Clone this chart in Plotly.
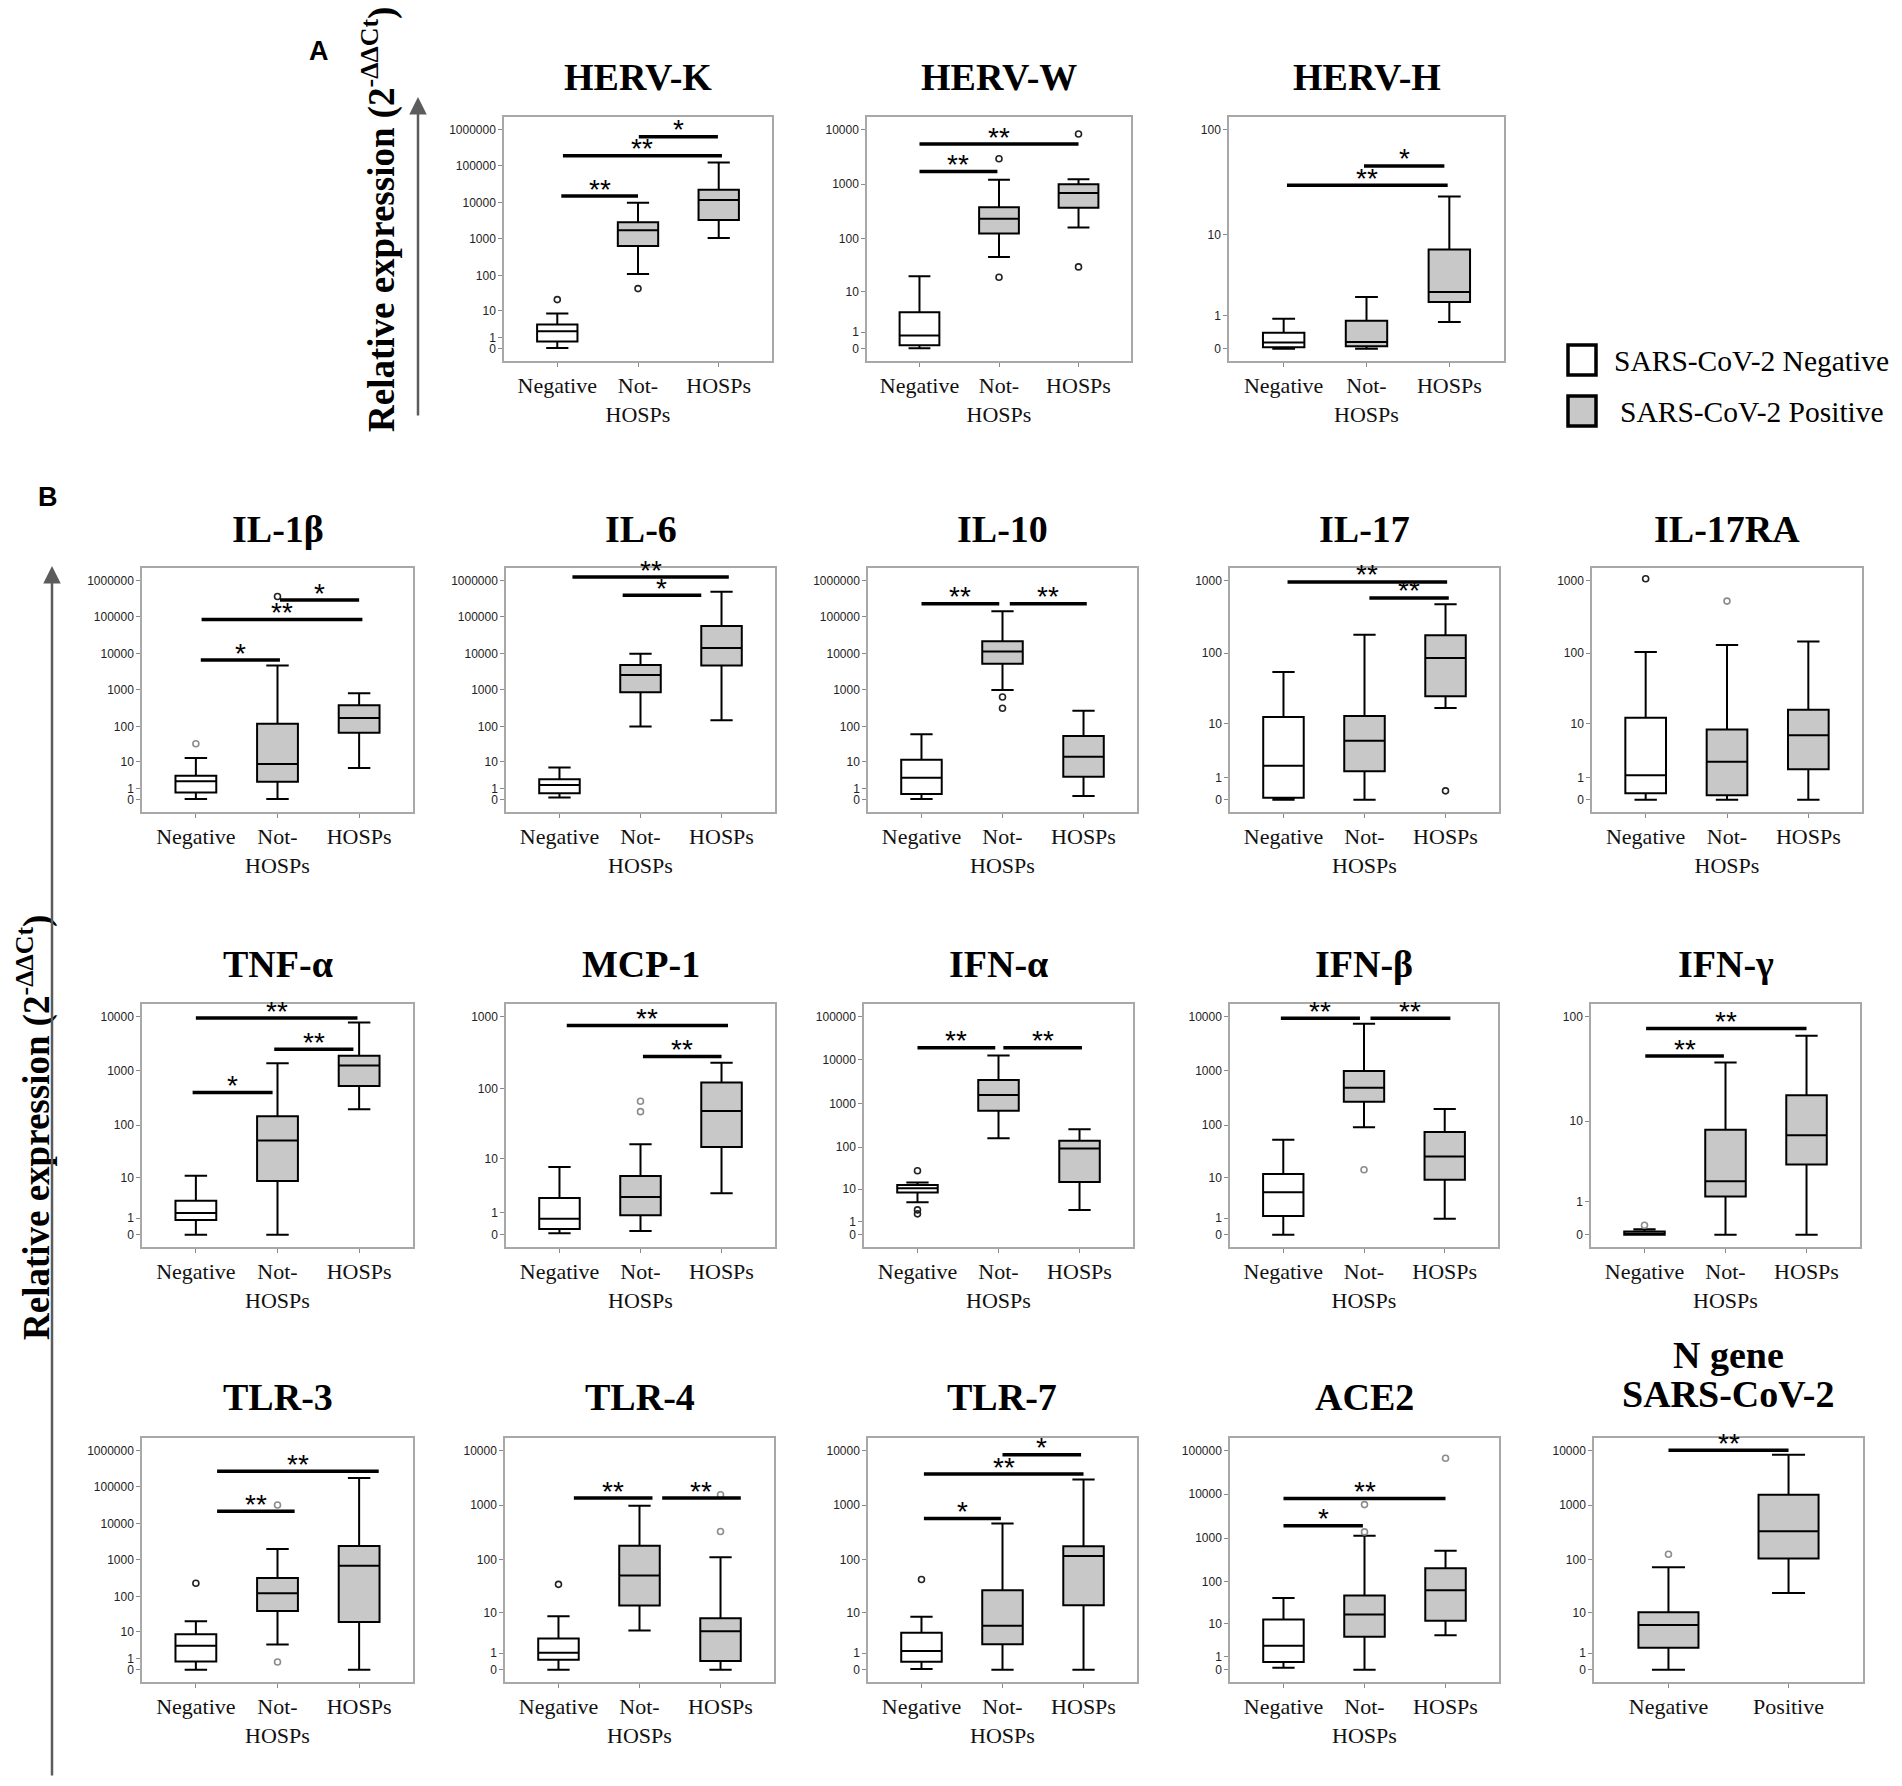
import numpy as np
import plotly.graph_objects as go

# page is 1902x1786; the html body keeps an 8 px margin, so the figure is drawn 8 px in
OFF = 8
W, H = 1902 - 2 * OFF, 1786 - 2 * OFF

# ---------------- data (raw 2^-ddCt units) ----------------
GROUPS3 = ["Negative", "Not-<br>HOSPs", "HOSPs"]
GROUPS2 = ["Negative", "Positive"]

# each group: [lower whisker, Q1, median, Q3, upper whisker]
HERVK_STATS = [[0.05, 0.58, 2.0, 3.6, 8.1], [109, 645, 1740, 2880, 9770], [1070, 3310, 11700, 22400, 123000]]
HERVK_OUT = [[21], [43], []]
HERVK_SIG = [(0.05, 1.0, 15000, "**"), (0.07, 2.04, 190000, "**"), (1.01, 1.99, 630000, "*")]

HERVW_STATS = [[0.02, 0.15, 0.74, 3.6, 20], [46, 125, 233, 380, 1200], [161, 370, 690, 1000, 1230]]
HERVW_OUT = [[], [2900, 19], [8200, 30]]
HERVW_SIG = [(0.0, 0.98, 1700, "**"), (0.0, 2.0, 5400, "**")]

HERVH_STATS = [[0, 0.03, 0.14, 0.4, 0.88], [0, 0.05, 0.15, 0.8, 1.97], [0.75, 1.67, 2.3, 7.05, 23.6]]
HERVH_OUT = [[], [], []]
HERVH_SIG = [(0.97, 1.94, 45.7, "*"), (0.04, 1.98, 30.2, "**")]

IL1B_STATS = [[0.05, 0.58, 2.2, 3.5, 12.8], [0.05, 2.1, 8.5, 119, 4700], [6.4, 67, 170, 380, 810]]
IL1B_OUT = [[33], [360000], []]
IL1B_SIG = [(0.06, 1.03, 6600, "*"), (0.07, 2.04, 85000, "**"), (1.03, 2.0, 290000, "*")]

IL6_STATS = [[0.15, 0.5, 1.5, 2.6, 6.6], [100, 870, 2570, 4800, 9800], [147, 4700, 14000, 56000, 490000]]
IL6_OUT = [[], [], []]
IL6_SIG = [(0.16, 2.09, 1230000, "**"), (0.78, 1.75, 390000, "*")]

IL10_STATS = [[0.05, 0.43, 3.0, 11.3, 61], [1000, 5200, 11300, 21600, 142000], [0.26, 3.2, 14, 54, 270]]
IL10_OUT = [[], [640, 315], []]
IL10_SIG = [(0.0, 0.96, 230000, "**"), (1.09, 2.04, 230000, "**")]

IL17_STATS = [[0, 0.06, 1.9, 12.5, 55], [0, 1.45, 5.4, 13, 180], [17, 25, 86, 177, 470]]
IL17_OUT = [[], [], [0.32]]
IL17_SIG = [(0.05, 2.02, 950, "**"), (1.06, 2.04, 575, "**")]

IL17RA_STATS = [[0, 0.22, 1.16, 12.2, 104], [0, 0.15, 2.3, 8.1, 130], [0, 1.6, 6.6, 16, 145]]
IL17RA_OUT = [[1050], [520], []]
IL17RA_SIG = []

TNFA_STATS = [[0, 0.86, 1.5, 3.2, 11], [0, 8.6, 52, 147, 1380], [197, 530, 1250, 1900, 7700]]
TNFA_OUT = [[], [], []]
TNFA_SIG = [(0.0, 1.98, 9300, "**"), (0.96, 1.93, 2500, "**"), (-0.04, 0.94, 400, "*")]

MCP1_STATS = [[0.05, 0.2, 0.66, 2.2, 7.5], [0.12, 0.85, 2.3, 5.4, 16.5], [2.7, 15, 49, 122, 230]]
MCP1_OUT = [[], [48, 67], []]
MCP1_SIG = [(0.09, 2.08, 750, "**"), (1.03, 2.0, 280, "**")]

IFNA_STATS = [[4.5, 8.3, 10.6, 12.8, 14.7], [160, 690, 1580, 3500, 12600], [2.7, 15, 93, 140, 260]]
IFNA_OUT = [[28, 2.7, 2.0], [], []]
IFNA_SIG = [(0.0, 0.96, 19000, "**"), (1.06, 2.03, 19000, "**")]

IFNB_STATS = [[0, 1.2, 5, 12, 54], [92, 270, 490, 1000, 7300], [0.96, 9.2, 26, 75, 200]]
IFNB_OUT = [[], [14.5], []]
IFNB_SIG = [(-0.03, 0.95, 9200, "**"), (1.08, 2.07, 9200, "**")]

IFNG_STATS = [[0, 0, 0.02, 0.07, 0.12], [0, 1.24, 2.1, 8.2, 37], [0, 3.4, 7.2, 18, 66]]
IFNG_OUT = [[0.22], [], []]
IFNG_SIG = [(0.02, 2.0, 77, "**"), (0.01, 0.98, 42.6, "**")]

TLR3_STATS = [[0, 0.66, 3.5, 8.3, 20], [3.9, 39, 122, 320, 2000], [0, 19, 700, 2400, 175000]]
TLR3_OUT = [[230], [32000, 0.62], []]
TLR3_SIG = [(0.26, 2.24, 270000, "**"), (0.26, 1.21, 21500, "**")]

TLR4_STATS = [[0, 0.52, 1.03, 2.7, 8.4], [4.2, 13.8, 51, 180, 980], [0, 0.44, 4.0, 7.7, 111]]
TLR4_OUT = [[35], [], [330, 1550]]
TLR4_SIG = [(0.19, 1.16, 1350, "**"), (1.28, 2.25, 1350, "**")]

TLR7_STATS = [[0.03, 0.4, 1.2, 3.7, 8.2], [0, 1.9, 5.3, 27, 460], [0, 14, 117, 177, 2950]]
TLR7_OUT = [[43], [], []]
TLR7_SIG = [(1.0, 1.97, 8300, "*"), (0.03, 2.0, 3700, "**"), (0.03, 0.98, 570, "*")]

ACE2_STATS = [[0.1, 0.5, 2.5, 13, 42], [0, 4.6, 17, 48, 1130], [5.1, 12, 64, 205, 510]]
ACE2_OUT = [[], [1380, 5800], [66000]]
ACE2_SIG = [(0.0, 2.0, 8000, "**"), (0.0, 0.98, 1900, "*")]

NGENE_STATS = [[0, 1.5, 5.5, 10.2, 73], [24, 106, 335, 1550, 8300]]
NGENE_OUT = [[126], []]
NGENE_SIG = [(0.0, 1.0, 10000, "**")]

# panel: title lines, groups, stats, outliers, significance bars, top y tick label
PANELS = [
    (["HERV-K"], GROUPS3, HERVK_STATS, HERVK_OUT, HERVK_SIG, 1000000),
    (["HERV-W"], GROUPS3, HERVW_STATS, HERVW_OUT, HERVW_SIG, 10000),
    (["HERV-H"], GROUPS3, HERVH_STATS, HERVH_OUT, HERVH_SIG, 100),
    (["IL-1β"], GROUPS3, IL1B_STATS, IL1B_OUT, IL1B_SIG, 1000000),
    (["IL-6"], GROUPS3, IL6_STATS, IL6_OUT, IL6_SIG, 1000000),
    (["IL-10"], GROUPS3, IL10_STATS, IL10_OUT, IL10_SIG, 1000000),
    (["IL-17"], GROUPS3, IL17_STATS, IL17_OUT, IL17_SIG, 1000),
    (["IL-17RA"], GROUPS3, IL17RA_STATS, IL17RA_OUT, IL17RA_SIG, 1000),
    (["TNF-α"], GROUPS3, TNFA_STATS, TNFA_OUT, TNFA_SIG, 10000),
    (["MCP-1"], GROUPS3, MCP1_STATS, MCP1_OUT, MCP1_SIG, 1000),
    (["IFN-α"], GROUPS3, IFNA_STATS, IFNA_OUT, IFNA_SIG, 100000),
    (["IFN-β"], GROUPS3, IFNB_STATS, IFNB_OUT, IFNB_SIG, 10000),
    (["IFN-γ"], GROUPS3, IFNG_STATS, IFNG_OUT, IFNG_SIG, 100),
    (["TLR-3"], GROUPS3, TLR3_STATS, TLR3_OUT, TLR3_SIG, 1000000),
    (["TLR-4"], GROUPS3, TLR4_STATS, TLR4_OUT, TLR4_SIG, 10000),
    (["TLR-7"], GROUPS3, TLR7_STATS, TLR7_OUT, TLR7_SIG, 10000),
    (["ACE2"], GROUPS3, ACE2_STATS, ACE2_OUT, ACE2_SIG, 100000),
    (["N gene", "SARS-CoV-2"], GROUPS2, NGENE_STATS, NGENE_OUT, NGENE_SIG, 10000),
]

LEGEND_LABELS = ["SARS-CoV-2 Negative", "SARS-CoV-2 Positive"]
Y_TITLE = "<b>Relative expression (2<sup>-ΔΔCt</sup>)</b>"

# ---------------- layout / style (page-pixel frames of each panel) ----------------
FRAMES = [
    (504, 772, 117, 361), (867, 1131, 117, 361), (1229, 1504, 117, 361),
    (142, 413, 568, 812), (506, 775, 568, 812), (868, 1137, 568, 812), (1230, 1499, 568, 812), (1592, 1862, 568, 812),
    (142, 413, 1004, 1247), (506, 775, 1004, 1247), (864, 1133, 1004, 1247), (1230, 1498, 1004, 1247), (1591, 1860, 1004, 1247),
    (142, 413, 1438, 1682), (505, 774, 1438, 1682), (868, 1137, 1438, 1682), (1230, 1499, 1438, 1682), (1594, 1863, 1438, 1682),
]
TITLE_Y = [[77]] * 3 + [[529]] * 5 + [[964]] * 5 + [[1397]] * 4 + [[1355, 1394]]
GREY = "#c8c8c8"
GREY_OUT = {(3, 0), (9, 1), (11, 1), (12, 0), (13, 1), (14, 2), (16, 1), (16, 2), (17, 0), (7, 1)}
SERIF = "Liberation Serif"
SANS = "Liberation Sans"


def t(v):
    return np.log10(np.asarray(v, dtype=float) + 1.0)


def px(x):
    return (x - OFF) / W


def py(y):
    return 1 - (y - OFF) / H


fig = go.Figure()
layout = {}
shapes = []
annotations = []

for k, (title, groups, stats, outs, sigs, top) in enumerate(PANELS):
    n = k + 1
    xa, ya = ("x", "y") if n == 1 else (f"x{n}", f"y{n}")
    x0, x1, y0, y1 = FRAMES[k]
    ng = len(groups)
    for i, s in enumerate(stats):
        tv = t(s)
        fill = "white" if (ng == 3 and i == 0) else GREY
        fig.add_trace(go.Box(
            x=[i], lowerfence=[tv[0]], q1=[tv[1]], median=[tv[2]], q3=[tv[3]], upperfence=[tv[4]],
            xaxis=xa, yaxis=ya, fillcolor=fill, line=dict(color="black", width=2),
            width=0.5, whiskerwidth=0.55, boxpoints=False, showlegend=False, hoverinfo="skip"))
        if outs[i]:
            col = "#8c8c8c" if (k, i) in GREY_OUT else "#222222"
            fig.add_trace(go.Scatter(
                x=[i] * len(outs[i]), y=t(outs[i]), mode="markers", xaxis=xa, yaxis=ya,
                marker=dict(symbol="circle-open", size=6, color=col, line=dict(width=1.6, color=col)),
                showlegend=False, hoverinfo="skip"))
    for (a, b, yv, lab) in sigs:
        yy = float(t(yv))
        shapes.append(dict(type="line", xref=xa, yref=ya, x0=a, x1=b, y0=yy, y1=yy,
                           line=dict(color="black", width=3.5)))
        annotations.append(dict(xref=xa, yref=ya, x=(a + b) / 2, y=yy, text=lab, showarrow=False,
                                xanchor="center", yanchor="middle", yshift=7,
                                font=dict(family=SANS, size=28, color="black")))
    # y ticks
    tickvals_raw = [0, 1] + [10 ** e for e in range(1, int(round(np.log10(top))) + 1)]
    T = float(t(top))
    p = 0.0563 * T
    ax_num = "" if n == 1 else str(n)
    xr = [-0.66, 2.66] if ng == 3 else [-0.62, 1.62]
    layout["xaxis" + ax_num] = dict(
        domain=[px(x0), px(x1)], range=xr, anchor=ya, tickmode="array", tickvals=list(range(ng)),
        ticktext=groups, ticks="outside", ticklen=4, tickcolor="#8a8a8a", showline=True, mirror=True,
        linecolor="#a8a8a8", linewidth=1.5, showgrid=False, zeroline=False,
        tickfont=dict(family=SERIF, size=22, color="#111111"), fixedrange=True)
    layout["yaxis" + ax_num] = dict(
        domain=[py(y1), py(y0)], range=[-p, T + p], anchor=xa, tickmode="array",
        tickvals=list(t(tickvals_raw)), ticktext=[str(v) for v in tickvals_raw], ticks="outside",
        ticklen=4, tickcolor="#8a8a8a", showline=True, mirror=True, linecolor="#a8a8a8", linewidth=1.5,
        showgrid=False, zeroline=False, tickfont=dict(family=SANS, size=12, color="#222222"), fixedrange=True)
    for line_txt, ty in zip(title, TITLE_Y[k]):
        annotations.append(dict(xref="paper", yref="paper", x=px((x0 + x1) / 2), y=py(ty),
                                text=f"<b>{line_txt}</b>", showarrow=False, xanchor="center", yanchor="middle",
                                font=dict(family=SERIF, size=38, color="black")))

# panel letters
annotations.append(dict(xref="paper", yref="paper", x=px(319), y=py(51), text="<b>A</b>", showarrow=False,
                        xanchor="center", yanchor="middle", font=dict(family=SANS, size=27, color="black")))
annotations.append(dict(xref="paper", yref="paper", x=px(48), y=py(497), text="<b>B</b>", showarrow=False,
                        xanchor="center", yanchor="middle", font=dict(family=SANS, size=27, color="black")))
# vertical axis titles
annotations.append(dict(xref="paper", yref="paper", x=px(379), y=py(220), text=Y_TITLE, textangle=-90,
                        xanchor="center", yanchor="middle", showarrow=False,
                        font=dict(family=SERIF, size=37, color="black")))
annotations.append(dict(xref="paper", yref="paper", x=px(34), y=py(1128), text=Y_TITLE, textangle=-90,
                        xanchor="center", yanchor="middle", showarrow=False,
                        font=dict(family=SERIF, size=37, color="black")))
# arrows
annotations.append(dict(xref="paper", yref="paper", x=px(418), y=py(97), ax=0, ay=320, text="",
                        showarrow=True, arrowhead=2, arrowsize=1.4, arrowwidth=2.5, arrowcolor="#5c5c5c"))
annotations.append(dict(xref="paper", yref="paper", x=px(52), y=py(566), ax=0, ay=1211, text="",
                        showarrow=True, arrowhead=2, arrowsize=1.4, arrowwidth=2.5, arrowcolor="#5c5c5c"))

# legend (drawn)
for j, (lab, fill) in enumerate(zip(LEGEND_LABELS, ["white", GREY])):
    ytop = 345 + j * 51
    shapes.append(dict(type="rect", xref="paper", yref="paper", x0=px(1568), x1=px(1596),
                       y0=py(ytop + 30), y1=py(ytop), fillcolor=fill, line=dict(color="black", width=3.5)))
    annotations.append(dict(xref="paper", yref="paper", x=px(1612 + j * 6), y=py(ytop + 16), text=lab,
                            showarrow=False, xanchor="left", yanchor="middle",
                            font=dict(family=SERIF, size=29.5, color="black")))

fig.update_layout(**layout)
fig.update_layout(width=W, height=H, margin=dict(l=0, r=0, t=0, b=0), paper_bgcolor="white",
                  plot_bgcolor="white", shapes=shapes, annotations=annotations, showlegend=False)
fig.write_html("out.html")
